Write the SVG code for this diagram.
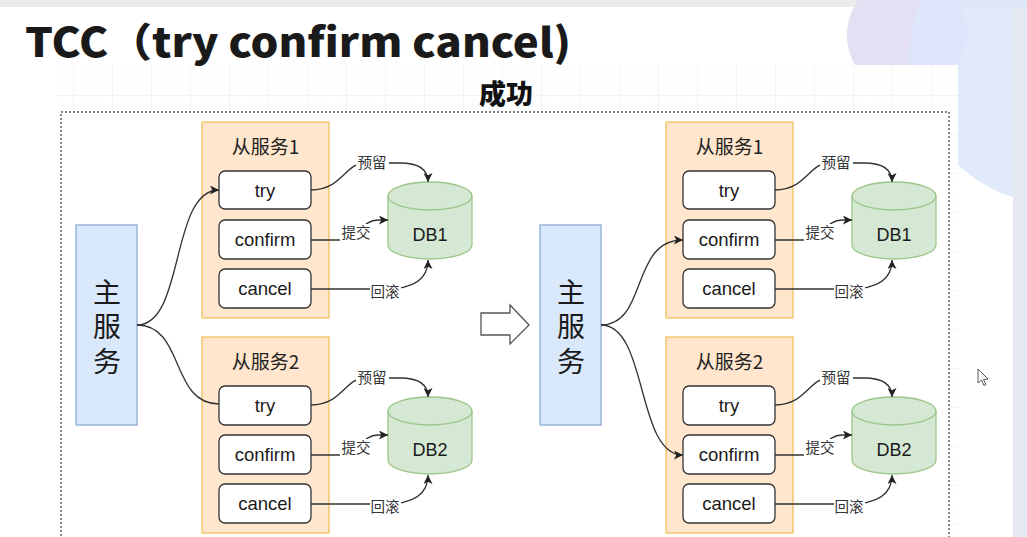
<svg xmlns="http://www.w3.org/2000/svg" width="1027" height="537" viewBox="0 0 1027 537">
  <defs>
    <style>
      .cjk { font-family: "Noto Sans CJK SC", "Liberation Sans", sans-serif; }
      .lat { font-family: "Liberation Sans", "Noto Sans CJK SC", sans-serif; }
      .main rect { fill: #dae8fc; stroke: #8eaad6; stroke-width: 1.3; }
      .main text { font-size: 28px; fill: #1a1a1a; text-anchor: middle; writing-mode: vertical-rl; letter-spacing: 6.5px; }
      .svc > rect { fill: #ffe6cc; stroke: #f2c56a; stroke-width: 1.4; }
      .svc > text { font-size: 19px; fill: #222; text-anchor: middle; }
      .op rect { fill: #ffffff; stroke: #333; stroke-width: 1.3; }
      .op text { font-size: 18.5px; fill: #1a1a1a; text-anchor: middle; }
      .db path { fill: #d5e8d4; stroke: #9cc58a; stroke-width: 1.3; }
      .db text { font-size: 18px; fill: #1a1a1a; text-anchor: middle; }
      .edge { fill: none; stroke: #333; stroke-width: 1.3; }
      .lbl { font-size: 14.5px; fill: #333; text-anchor: middle; }
      .lblbg { fill: #ffffff; }
    </style>
    <marker id="arr" viewBox="0 0 10 10" refX="10" refY="5" markerWidth="9" markerHeight="9" markerUnits="userSpaceOnUse" orient="auto">
      <path d="M0,0 L10,5 L0,10 L2.5,5 Z" fill="#222"/>
    </marker>
    <pattern id="minor" x="34" y="17" width="9.75" height="9.75" patternUnits="userSpaceOnUse">
      <path d="M0,0 H9.75 M0,0 V9.75" stroke="#f7f7f7" stroke-width="1" fill="none"/>
    </pattern>
    <pattern id="major" x="34" y="17" width="39" height="39" patternUnits="userSpaceOnUse">
      <path d="M0,0 H39 M0,0 V39" stroke="#ededed" stroke-width="1" fill="none"/>
    </pattern>
  </defs>

  <!-- slide background -->
  <rect x="0" y="0" width="1027" height="537" fill="#ffffff"/>
  <rect x="0" y="0" width="1027" height="7" fill="#ebebeb"/>
  <circle cx="907" cy="35" r="60" fill="#e4e0f3"/>
  <circle cx="1060" cy="55" r="150" fill="#dce6fa" opacity="0.85"/>
  <rect x="1013" y="7" width="14" height="530" fill="#e4e9f3"/>

  <!-- editor canvas with grid -->
  <rect x="55" y="65" width="903" height="472" fill="#ffffff"/>
  <rect x="55" y="65" width="903" height="472" fill="url(#minor)"/>
  <rect x="55" y="65" width="903" height="472" fill="url(#major)"/>
  <rect x="61" y="112" width="888" height="430" fill="#ffffff" stroke="#555" stroke-width="1.4" stroke-dasharray="2 2"/>

  <!-- headings -->
  <text x="25" y="57" class="cjk" font-size="40" font-weight="900" fill="#1a1a1a" textLength="546" lengthAdjust="spacingAndGlyphs">TCC（try confirm cancel)</text>
  <text x="506" y="104" class="cjk" font-size="27" font-weight="900" fill="#111" text-anchor="middle">成功</text>

  <!-- transition arrow -->
  <polygon id="next" points="481,313 510,313 510,305 529,325 510,344 510,335 481,335" fill="#ffffff" stroke="#555" stroke-width="1.3"/>

  <!-- ===== left diagram ===== -->
  <g id="main-left" class="main cjk">
    <rect x="76" y="225" width="61" height="200"/>
    <text x="107" y="330">主服务</text>
  </g>

  <g id="svc1-left" class="svc cjk">
    <rect x="202" y="122" width="127" height="196"/>
    <text x="265.5" y="154">从服务1</text>
  </g>
  <g id="svc1-left-try" class="op lat"><rect x="219" y="171" width="92" height="38" rx="6"/><text x="265" y="197">try</text></g>
  <g id="svc1-left-confirm" class="op lat"><rect x="219" y="220" width="92" height="39" rx="6"/><text x="265" y="246">confirm</text></g>
  <g id="svc1-left-cancel" class="op lat"><rect x="219" y="269" width="92" height="39" rx="6"/><text x="265" y="295">cancel</text></g>

  <g id="svc2-left" class="svc cjk">
    <rect x="202" y="337" width="127" height="196"/>
    <text x="265.5" y="369">从服务2</text>
  </g>
  <g id="svc2-left-try" class="op lat"><rect x="219" y="386" width="92" height="39" rx="6"/><text x="265" y="412">try</text></g>
  <g id="svc2-left-confirm" class="op lat"><rect x="219" y="435" width="92" height="39" rx="6"/><text x="265" y="461">confirm</text></g>
  <g id="svc2-left-cancel" class="op lat"><rect x="219" y="484" width="92" height="39" rx="6"/><text x="265" y="510">cancel</text></g>

  <g id="db1-left" class="db lat">
    <path d="M388,196 A42,14 0 0 1 472,196 L472,245 A42,14 0 0 1 388,245 Z"/>
    <path d="M388,196 A42,14 0 0 0 472,196" fill="none"/>
    <text x="430" y="241">DB1</text>
  </g>
  <g id="db2-left" class="db lat">
    <path d="M388,411 A42,14 0 0 1 472,411 L472,460 A42,14 0 0 1 388,460 Z"/>
    <path d="M388,411 A42,14 0 0 0 472,411" fill="none"/>
    <text x="430" y="456">DB2</text>
  </g>

  <!-- ===== right diagram ===== -->
  <g id="main-right" class="main cjk">
    <rect x="540" y="225" width="61" height="200"/>
    <text x="571" y="330">主服务</text>
  </g>

  <g id="svc1-right" class="svc cjk">
    <rect x="666" y="122" width="127" height="196"/>
    <text x="729.5" y="154">从服务1</text>
  </g>
  <g id="svc1-right-try" class="op lat"><rect x="683" y="171" width="92" height="38" rx="6"/><text x="729" y="197">try</text></g>
  <g id="svc1-right-confirm" class="op lat"><rect x="683" y="220" width="92" height="39" rx="6"/><text x="729" y="246">confirm</text></g>
  <g id="svc1-right-cancel" class="op lat"><rect x="683" y="269" width="92" height="39" rx="6"/><text x="729" y="295">cancel</text></g>

  <g id="svc2-right" class="svc cjk">
    <rect x="666" y="337" width="127" height="196"/>
    <text x="729.5" y="369">从服务2</text>
  </g>
  <g id="svc2-right-try" class="op lat"><rect x="683" y="386" width="92" height="39" rx="6"/><text x="729" y="412">try</text></g>
  <g id="svc2-right-confirm" class="op lat"><rect x="683" y="435" width="92" height="39" rx="6"/><text x="729" y="461">confirm</text></g>
  <g id="svc2-right-cancel" class="op lat"><rect x="683" y="484" width="92" height="39" rx="6"/><text x="729" y="510">cancel</text></g>

  <g id="db1-right" class="db lat">
    <path d="M852,196 A42,14 0 0 1 936,196 L936,245 A42,14 0 0 1 852,245 Z"/>
    <path d="M852,196 A42,14 0 0 0 936,196" fill="none"/>
    <text x="894" y="241">DB1</text>
  </g>
  <g id="db2-right" class="db lat">
    <path d="M852,411 A42,14 0 0 1 936,411 L936,460 A42,14 0 0 1 852,460 Z"/>
    <path d="M852,411 A42,14 0 0 0 936,411" fill="none"/>
    <text x="894" y="456">DB2</text>
  </g>

  <!-- connectors, drawn above the containers -->
  <g id="connectors">
    <!-- left: main service calls try -->
    <path class="edge" d="M137,325 C185,325 170,190 219,190" marker-end="url(#arr)"/>
    <path class="edge" d="M137,325 C185,325 170,404 219,404"/>
    <!-- left, service 1 -->
    <path class="edge" d="M311,190 C342,190 345,163 365,163 L400,163 C420,163 428,170 428,182" marker-end="url(#arr)"/>
    <path class="edge" d="M311,240 L340,240 C362,240 360,220 378,220 L388,220" marker-end="url(#arr)"/>
    <path class="edge" d="M311,289 L385,289 C412,289 428,280 428,260" marker-end="url(#arr)"/>
    <!-- left, service 2 -->
    <path class="edge" d="M311,405 C342,405 345,378 365,378 L400,378 C420,378 428,385 428,397" marker-end="url(#arr)"/>
    <path class="edge" d="M311,455 L340,455 C362,455 360,435 378,435 L388,435" marker-end="url(#arr)"/>
    <path class="edge" d="M311,504 L385,504 C412,504 428,495 428,475" marker-end="url(#arr)"/>

    <!-- right: main service calls confirm -->
    <path class="edge" d="M601,325 C648,325 630,240 683,240" marker-end="url(#arr)"/>
    <path class="edge" d="M601,325 C648,325 636,455 683,455" marker-end="url(#arr)"/>
    <!-- right, service 1 -->
    <path class="edge" d="M775,190 C806,190 809,163 829,163 L864,163 C884,163 892,170 892,182" marker-end="url(#arr)"/>
    <path class="edge" d="M775,240 L804,240 C826,240 824,220 842,220 L852,220" marker-end="url(#arr)"/>
    <path class="edge" d="M775,289 L849,289 C876,289 892,280 892,260" marker-end="url(#arr)"/>
    <!-- right, service 2 -->
    <path class="edge" d="M775,405 C806,405 809,378 829,378 L864,378 C884,378 892,385 892,397" marker-end="url(#arr)"/>
    <path class="edge" d="M775,455 L804,455 C826,455 824,435 842,435 L852,435" marker-end="url(#arr)"/>
    <path class="edge" d="M775,504 L849,504 C876,504 892,495 892,475" marker-end="url(#arr)"/>

    <!-- edge labels -->
    <g class="cjk">
      <rect class="lblbg" x="356" y="154" width="33" height="18"/><text class="lbl" x="372" y="168">预留</text>
      <rect class="lblbg" x="340" y="224" width="32" height="18"/><text class="lbl" x="356" y="238">提交</text>
      <rect class="lblbg" x="370" y="283" width="31" height="18"/><text class="lbl" x="385" y="297">回滚</text>
      <rect class="lblbg" x="356" y="369" width="33" height="18"/><text class="lbl" x="372" y="383">预留</text>
      <rect class="lblbg" x="340" y="439" width="32" height="18"/><text class="lbl" x="356" y="453">提交</text>
      <rect class="lblbg" x="370" y="498" width="31" height="18"/><text class="lbl" x="385" y="512">回滚</text>

      <rect class="lblbg" x="820" y="154" width="33" height="18"/><text class="lbl" x="836" y="168">预留</text>
      <rect class="lblbg" x="804" y="224" width="32" height="18"/><text class="lbl" x="820" y="238">提交</text>
      <rect class="lblbg" x="834" y="283" width="31" height="18"/><text class="lbl" x="849" y="297">回滚</text>
      <rect class="lblbg" x="820" y="369" width="33" height="18"/><text class="lbl" x="836" y="383">预留</text>
      <rect class="lblbg" x="804" y="439" width="32" height="18"/><text class="lbl" x="820" y="453">提交</text>
      <rect class="lblbg" x="834" y="498" width="31" height="18"/><text class="lbl" x="849" y="512">回滚</text>
    </g>
  </g>

  <!-- pointer -->
  <path d="M978,369 L978,383 L981.5,380 L984,385.5 L986,384.5 L983.5,379.5 L988,379 Z" fill="#ffffff" stroke="#555" stroke-width="1"/>
</svg>
